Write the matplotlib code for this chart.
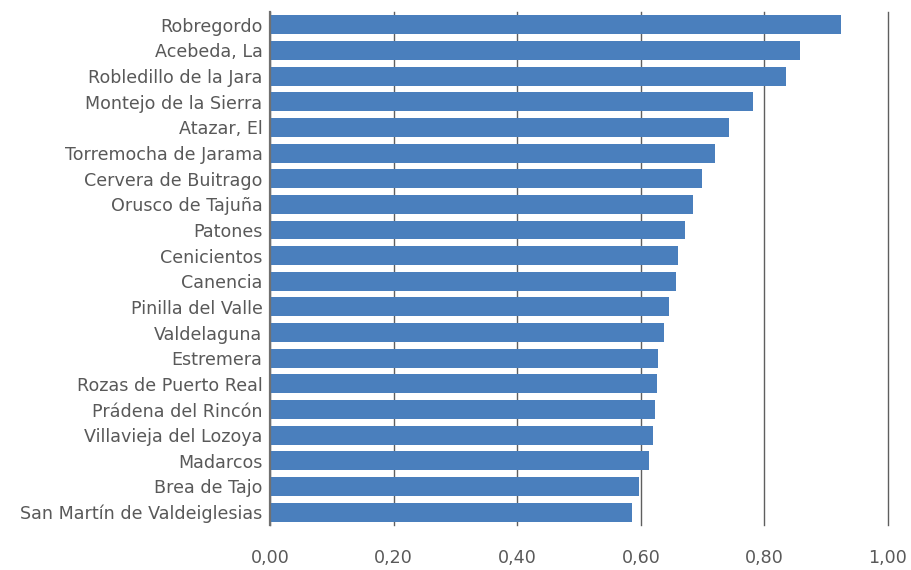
import matplotlib
matplotlib.use("Agg")
import matplotlib.pyplot as plt
from matplotlib.ticker import FuncFormatter

# ── data (top to bottom as in the chart) ─────────────────────────────────────
municipios = [
    "Robregordo", "Acebeda, La", "Robledillo de la Jara", "Montejo de la Sierra",
    "Atazar, El", "Torremocha de Jarama", "Cervera de Buitrago", "Orusco de Tajuña",
    "Patones", "Cenicientos", "Canencia", "Pinilla del Valle", "Valdelaguna",
    "Estremera", "Rozas de Puerto Real", "Prádena del Rincón", "Villavieja del Lozoya",
    "Madarcos", "Brea de Tajo", "San Martín de Valdeiglesias",
]
valores = [
    0.924, 0.857, 0.835, 0.782, 0.743, 0.720, 0.699, 0.685,
    0.672, 0.660, 0.657, 0.646, 0.638, 0.628, 0.626, 0.623,
    0.620, 0.613, 0.597, 0.585,
]
x_ticks = [0.0, 0.2, 0.4, 0.6, 0.8, 1.0]

# ── style ────────────────────────────────────────────────────────────────────
BAR  = "#4A7FBD"
GRID = "#5F5F5F"
TXT  = "#595959"

fig = plt.figure(figsize=(9.11, 5.70), dpi=100)
ax = fig.add_axes([0.2964, 0.079, 0.6784, 0.900])

n = len(municipios)
pos = list(range(n))[::-1]
ax.barh(pos, valores, height=0.74, color=BAR, zorder=3)

ax.set_xlim(0, 1.0)
ax.set_ylim(-0.5, n - 0.5)
ax.set_xticks(x_ticks)
ax.xaxis.set_major_formatter(FuncFormatter(lambda v, _: f"{v:.2f}".replace(".", ",")))
ax.set_yticks(pos)
ax.set_yticklabels(municipios)

ax.grid(axis="x", color=GRID, lw=1.0, zorder=0)
for gl in ax.get_xgridlines():
    gl.set_clip_on(False)
for side in ("top", "right", "bottom"):
    ax.spines[side].set_visible(False)
ax.spines["left"].set_color("#707070")
ax.spines["left"].set_linewidth(1.6)
ax.spines["left"].set_zorder(4)

ax.tick_params(axis="x", length=0, pad=17, labelsize=12.6, labelcolor=TXT)
ax.tick_params(axis="y", length=0, pad=5.5, labelsize=12.6, labelcolor=TXT)

fig.savefig("out.png", dpi=100)
